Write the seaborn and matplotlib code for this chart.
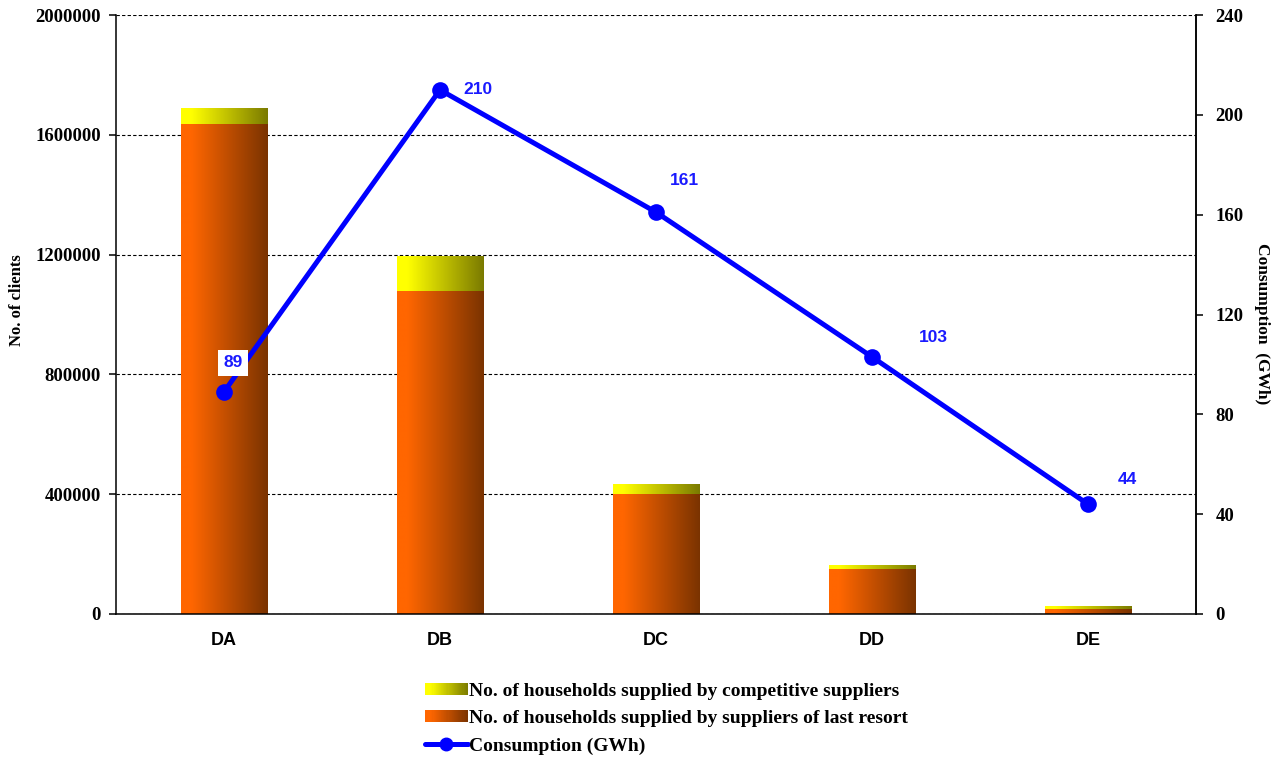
import numpy as np
import seaborn as sns
import matplotlib.pyplot as plt
from matplotlib.colors import LinearSegmentedColormap
from matplotlib.legend_handler import HandlerBase
from matplotlib.patches import Rectangle
from matplotlib.lines import Line2D

# data
districts = ["DA", "DB", "DC", "DD", "DE"]
last_resort = [1636000, 1078000, 400700, 150300, 16700]
competitive = [53500, 118300, 33400, 13300, 10000]
consumption = [89, 210, 161, 103, 44]

label_offsets = [(9, 29), (38, 0), (28, 32), (61, 19), (39, 25)]  # pixels

sns.set_theme(style="white")
plt.rcParams["font.family"] = ["Liberation Serif", "DejaVu Serif"]
plt.rcParams["text.color"] = "black"
plt.rcParams["axes.labelcolor"] = "black"
plt.rcParams["xtick.color"] = "black"
plt.rcParams["ytick.color"] = "black"

cmap_lr = LinearSegmentedColormap.from_list(
    "lr", [(0, "#ff6600"), (0.12, "#ff6600"), (1, "#7a3300")])
cmap_comp = LinearSegmentedColormap.from_list(
    "comp", [(0, "#ffff00"), (0.12, "#ffff00"), (1, "#7a7a00")])

fig = plt.figure(figsize=(12.84, 7.58), dpi=100)
ax = fig.add_axes([116 / 1284, 1 - 614 / 758, 1080 / 1284, 599 / 758])

totals = [a + b for a, b in zip(last_resort, competitive)]
sns.barplot(x=districts, y=totals, color="#ffff00", width=0.4, ax=ax,
            saturation=1)
sns.barplot(x=districts, y=last_resort, color="#ff6600", width=0.4, ax=ax,
            saturation=1)

# gradient fill clipped to each bar
grad = np.linspace(0, 1, 256).reshape(1, -1)
n = len(districts)
for i, p in enumerate(ax.patches):
    cmap = cmap_comp if i < n else cmap_lr
    x0, y0 = p.get_x(), p.get_y()
    w, h = p.get_width(), p.get_height()
    p.set_facecolor("none")
    p.set_edgecolor("none")
    im = ax.imshow(grad, cmap=cmap, aspect="auto", extent=[x0, x0 + w, y0, y0 + h],
                   zorder=2, interpolation="bilinear")
    im.set_clip_path(p)

ax.set_xlim(-0.5, n - 0.5)
ax.set_ylim(0, 2000000)
ax.set_yticks(np.arange(0, 2000001, 400000))
ax.set_yticklabels([str(v) for v in range(0, 2000001, 400000)],
                   fontsize=13.5, fontweight="bold")
ax.set_xticks(np.arange(n))
ax.set_xticklabels(districts, fontsize=13, fontweight="bold",
                   family=["Liberation Sans", "DejaVu Sans"])
ax.set_xticks(np.arange(-0.5, n, 1), minor=True)
ax.tick_params(axis="x", which="major", length=0, pad=13)
ax.tick_params(axis="x", which="minor", length=6, width=1.1, direction="out")
ax.tick_params(axis="y", length=5, width=1.1, direction="out", left=True,
               pad=6)
ax.set_axisbelow(True)
ax.yaxis.grid(True, linestyle=(0, (3, 2)), color="black", linewidth=0.8)
ax.xaxis.grid(False)
ax.set_ylabel("No. of clients", fontsize=12, fontweight="bold")
ax.yaxis.set_label_coords(-0.084, 0.524)
ax.set_xlabel("")
for s in ["left", "bottom", "right"]:
    ax.spines[s].set_color("black")
    ax.spines[s].set_linewidth(1.1)
ax.spines["top"].set_visible(False)

# consumption line on the right axis
ax2 = ax.twinx()
sns.lineplot(x=np.arange(n), y=consumption, ax=ax2, color="#0000ff",
             linewidth=3.6, marker="o", markersize=12, markeredgewidth=0,
             zorder=5)
ax2.set_ylim(0, 240)
ax2.set_yticks(np.arange(0, 241, 40))
ax2.set_yticklabels([str(v) for v in range(0, 241, 40)], fontsize=13.5,
                    fontweight="bold")
ax2.tick_params(axis="y", length=5, width=1.1, direction="out", right=True,
                pad=9)
ax2.set_ylabel("Consumption  (GWh)", fontsize=12.5, fontweight="bold",
               rotation=270, va="center")
ax2.yaxis.set_label_coords(1.061, 0.485)
ax2.grid(False)
for s in ax2.spines.values():
    s.set_visible(False)
ax2.spines["right"].set_visible(True)
ax2.spines["right"].set_color("black")
ax2.spines["right"].set_linewidth(1.1)
ax.set_xlim(-0.5, n - 0.5)

for i, v in enumerate(consumption):
    dx, dy = label_offsets[i]
    kw = {}
    if i == 0:
        kw["bbox"] = dict(facecolor="white", edgecolor="none", pad=4)
    ax2.annotate(str(v), (i, v), xytext=(dx, dy), textcoords="offset pixels",
                 ha="center", va="center", color="#1a1aff", fontsize=12.5,
                 fontweight="bold", family=["Liberation Sans", "DejaVu Sans"],
                 zorder=6, **kw)


class GradientHandler(HandlerBase):
    def __init__(self, cmap):
        super().__init__()
        self.cmap = cmap

    def create_artists(self, legend, orig_handle, xdescent, ydescent, width,
                       height, fontsize, trans):
        steps = 40
        arts = []
        for k in range(steps):
            r = Rectangle((-xdescent + width * k / steps, -ydescent),
                          width / steps * 1.08, height,
                          facecolor=self.cmap((k + 0.5) / steps),
                          edgecolor="none", transform=trans)
            arts.append(r)
        return arts


h_comp = Rectangle((0, 0), 1, 1)
h_lr = Rectangle((0, 0), 1, 1)
h_line = Line2D([], [], color="#0000ff", linewidth=3.6, marker="o",
                markersize=9)
fig.legend([h_comp, h_lr, h_line],
           ["No. of households supplied by competitive suppliers",
            "No. of households supplied by suppliers of last resort",
            "Consumption (GWh)"],
           handler_map={h_comp: GradientHandler(cmap_comp),
                        h_lr: GradientHandler(cmap_lr)},
           loc="upper left", bbox_to_anchor=(425 / 1284, 1 - 683 / 758),
           frameon=False, prop={"size": 14, "weight": "bold"},
           handlelength=2.2, handletextpad=0.08, labelspacing=0.52,
           handleheight=0.6, borderpad=0, borderaxespad=0, numpoints=1)

fig.savefig("out.png", dpi=100)
